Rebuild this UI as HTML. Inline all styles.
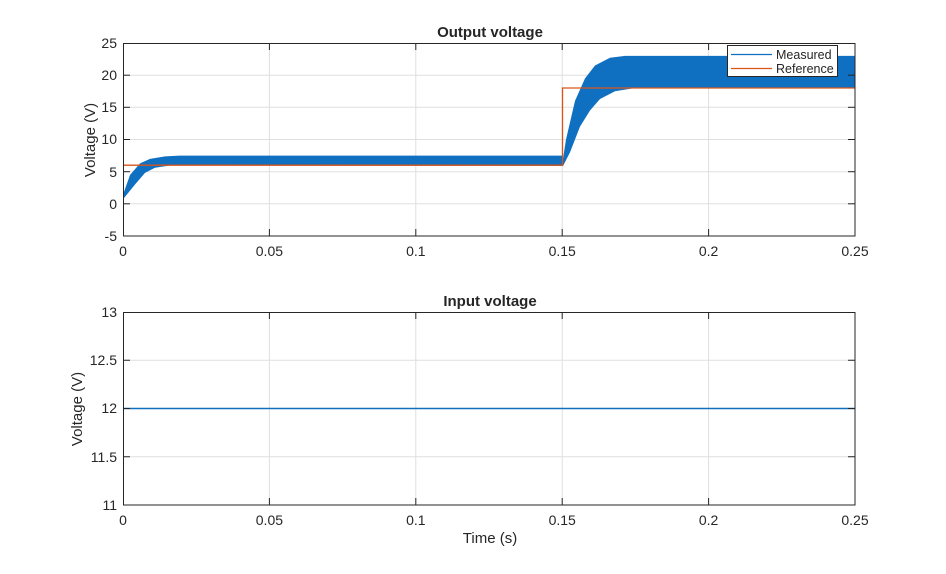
<!DOCTYPE html>
<html><head><meta charset="utf-8"><style>
html,body{margin:0;padding:0;background:#fff;}
svg text{font-family:"Liberation Sans",sans-serif;fill:#262626;}
</style></head><body>
<svg width="946" height="569" viewBox="0 0 946 569" xmlns="http://www.w3.org/2000/svg">
<rect width="946" height="569" fill="#fff"/>
<!-- top axes -->
<g stroke="#dfdfdf" stroke-width="1">
<line x1="269.4" y1="43" x2="269.4" y2="236"/><line x1="415.8" y1="43" x2="415.8" y2="236"/>
<line x1="562.2" y1="43" x2="562.2" y2="236"/><line x1="708.6" y1="43" x2="708.6" y2="236"/>
<line x1="123" y1="75.2" x2="855" y2="75.2"/><line x1="123" y1="107.3" x2="855" y2="107.3"/>
<line x1="123" y1="139.5" x2="855" y2="139.5"/><line x1="123" y1="171.7" x2="855" y2="171.7"/>
<line x1="123" y1="203.8" x2="855" y2="203.8"/>
</g>
<polygon fill="#0f6fc0" points="123,194.7 130,175 140,163.4 150,158.9 165,156.4 180,155.6 562,155.6 562,165 566,139.5 575,100.9 585,78.4 595,65.5 610,57.8 625,55.9 855,55.9 855,88 635,88 615,91.2 600,99 590,110.5 580,126.6 570,152.4 563,166 170,165.5 155,167.7 145,172.9 135,184.5 123,199.3"/>
<polyline fill="none" stroke="#d95319" stroke-width="1.3" points="123,165.2 562.5,165.2 562.5,88 855,88"/>
<rect x="123.5" y="43.5" width="731.5" height="192.5" fill="none" stroke="#262626" stroke-width="1"/>
<g stroke="#262626">
<line x1="269.4" y1="43" x2="269.4" y2="50"/><line x1="415.8" y1="43" x2="415.8" y2="50"/><line x1="562.2" y1="43" x2="562.2" y2="50"/><line x1="708.6" y1="43" x2="708.6" y2="50"/>
<line x1="269.4" y1="236" x2="269.4" y2="229"/><line x1="415.8" y1="236" x2="415.8" y2="229"/><line x1="562.2" y1="236" x2="562.2" y2="229"/><line x1="708.6" y1="236" x2="708.6" y2="229"/>
<line x1="123" y1="75.2" x2="130" y2="75.2"/><line x1="123" y1="107.3" x2="130" y2="107.3"/><line x1="123" y1="139.5" x2="130" y2="139.5"/><line x1="123" y1="171.7" x2="130" y2="171.7"/><line x1="123" y1="203.8" x2="130" y2="203.8"/>
<line x1="855" y1="75.2" x2="848" y2="75.2"/><line x1="855" y1="107.3" x2="848" y2="107.3"/><line x1="855" y1="139.5" x2="848" y2="139.5"/><line x1="855" y1="171.7" x2="848" y2="171.7"/><line x1="855" y1="203.8" x2="848" y2="203.8"/>
</g>
<g font-size="14" text-anchor="end">
<text x="117" y="48">25</text><text x="117" y="80">20</text><text x="117" y="112">15</text><text x="117" y="144">10</text><text x="117" y="177">5</text><text x="117" y="209">0</text><text x="117" y="241">-5</text>
</g>
<g font-size="14" text-anchor="middle">
<text x="123" y="256">0</text><text x="269.4" y="256">0.05</text><text x="415.8" y="256">0.1</text><text x="562.2" y="256">0.15</text><text x="708.6" y="256">0.2</text><text x="855" y="256">0.25</text>
<text x="490" y="37" font-weight="bold" font-size="15">Output voltage</text>
<text transform="translate(95,140) rotate(-90)" font-size="15">Voltage (V)</text>
</g>
<rect x="727.5" y="45.5" width="110" height="31" fill="#fff" stroke="#262626"/>
<line x1="731" y1="54.5" x2="772" y2="54.5" stroke="#0f6fc0" stroke-width="1.3"/>
<line x1="731" y1="68.5" x2="772" y2="68.5" stroke="#d95319" stroke-width="1.3"/>
<text x="776" y="59" font-size="12.5">Measured</text>
<text x="776" y="73" font-size="12.5">Reference</text>
<!-- bottom axes -->
<g stroke="#dfdfdf" stroke-width="1">
<line x1="269.4" y1="312" x2="269.4" y2="505"/><line x1="415.8" y1="312" x2="415.8" y2="505"/>
<line x1="562.2" y1="312" x2="562.2" y2="505"/><line x1="708.6" y1="312" x2="708.6" y2="505"/>
<line x1="123" y1="360.25" x2="855" y2="360.25"/><line x1="123" y1="456.75" x2="855" y2="456.75"/>
</g>
<line x1="123" y1="408.5" x2="855" y2="408.5" stroke="#0f6fc0" stroke-width="1.5"/>
<rect x="123.5" y="312.5" width="731.5" height="192.5" fill="none" stroke="#262626" stroke-width="1"/>
<g stroke="#262626">
<line x1="269.4" y1="312" x2="269.4" y2="319"/><line x1="415.8" y1="312" x2="415.8" y2="319"/><line x1="562.2" y1="312" x2="562.2" y2="319"/><line x1="708.6" y1="312" x2="708.6" y2="319"/>
<line x1="269.4" y1="505" x2="269.4" y2="498"/><line x1="415.8" y1="505" x2="415.8" y2="498"/><line x1="562.2" y1="505" x2="562.2" y2="498"/><line x1="708.6" y1="505" x2="708.6" y2="498"/>
<line x1="123" y1="360.25" x2="130" y2="360.25"/><line x1="123" y1="408.5" x2="130" y2="408.5"/><line x1="123" y1="456.75" x2="130" y2="456.75"/>
<line x1="855" y1="360.25" x2="848" y2="360.25"/><line x1="855" y1="408.5" x2="848" y2="408.5"/><line x1="855" y1="456.75" x2="848" y2="456.75"/>
</g>
<g font-size="14" text-anchor="end">
<text x="117" y="317">13</text><text x="117" y="365">12.5</text><text x="117" y="413">12</text><text x="117" y="462">11.5</text><text x="117" y="510">11</text>
</g>
<g font-size="14" text-anchor="middle">
<text x="123" y="525">0</text><text x="269.4" y="525">0.05</text><text x="415.8" y="525">0.1</text><text x="562.2" y="525">0.15</text><text x="708.6" y="525">0.2</text><text x="855" y="525">0.25</text>
<text x="490" y="306" font-weight="bold" font-size="15">Input voltage</text>
<text x="490" y="543" font-size="15">Time (s)</text>
<text transform="translate(82,409) rotate(-90)" font-size="15">Voltage (V)</text>
</g>
</svg>
</body></html>
